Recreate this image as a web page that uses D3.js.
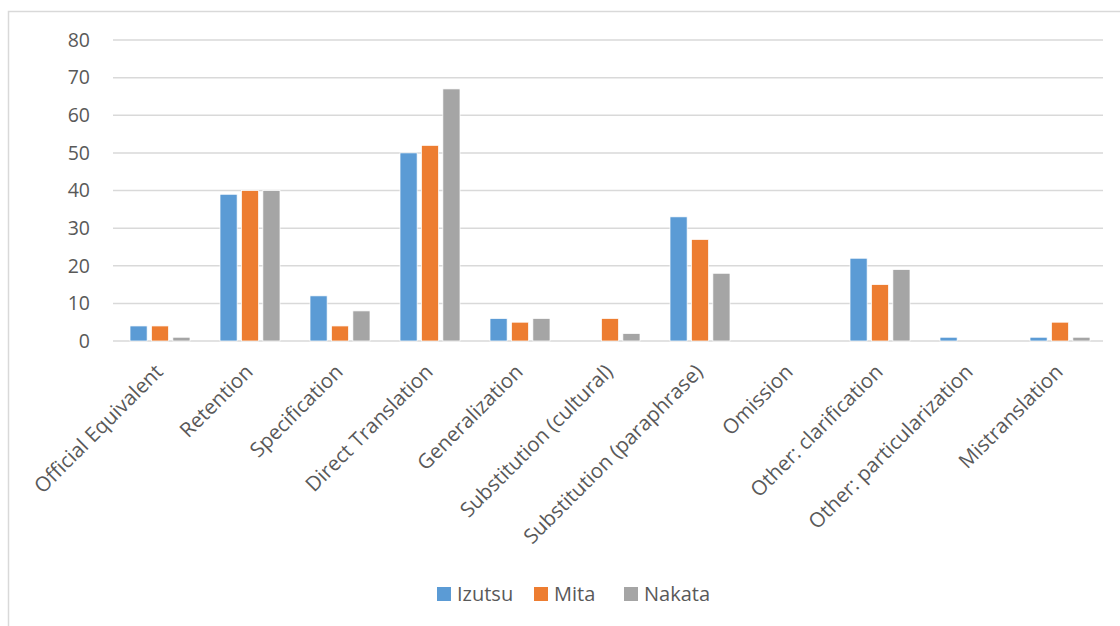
<!DOCTYPE html>
<html>
<head>
<meta charset="utf-8">
<script src="https://cdn.jsdelivr.net/npm/d3@7"></script>
<style>
  html, body { margin: 0; padding: 0; background: #fff; }
  svg { display: block; font-family: "Open Sans", Lato, sans-serif; }
</style>
</head>
<body>
<div id="chart"></div>
<script>
// ---------- Data ----------
const categories = [
  'Official Equivalent', 'Retention', 'Specification', 'Direct Translation',
  'Generalization', 'Substitution (cultural)', 'Substitution (paraphrase)',
  'Omission', 'Other: clarification', 'Other: particularization', 'Mistranslation'
];
const seriesNames = ['Izutsu', 'Mita', 'Nakata'];
const izutsu = [4, 39, 12, 50, 6, 0, 33, 0, 22, 1, 1];
const mita   = [4, 40, 4, 52, 5, 6, 27, 0, 15, 0, 5];
const nakata = [1, 40, 8, 67, 6, 2, 18, 0, 19, 0, 1];
const yTicks = [0, 10, 20, 30, 40, 50, 60, 70, 80];
const colors = ['#5b9bd5', '#ed7d31', '#a5a5a5'];

const values = [izutsu, mita, nakata];
const W = 1120, H = 626;
const m = { t: 40, r: 17, b: 285, l: 113 };
const txt = '#595959';

const svg = d3.select('#chart').append('svg').attr('width', W).attr('height', H);

// chart area border (left + top visible)
svg.append('path')
  .attr('d', `M8.5,${H} L8.5,11.5 L${W},11.5`)
  .attr('fill', 'none').attr('stroke', '#d9d9d9').attr('stroke-width', 1.5);

const x0 = d3.scaleBand().domain(categories).range([m.l, W - m.r]);
const x1 = d3.scaleBand().domain(seriesNames).range([0, 60]).paddingInner(0.2);
const y = d3.scaleLinear().domain([0, 80]).range([H - m.b, m.t]);

// gridlines
svg.append('g').selectAll('line').data(yTicks).join('line')
  .attr('x1', m.l).attr('x2', W - m.r)
  .attr('y1', d => y(d)).attr('y2', d => y(d))
  .attr('stroke', '#d9d9d9').attr('stroke-width', 1.5);

// y axis labels
const yAxis = svg.append('g').attr('transform', `translate(${m.l - 18},0)`)
  .call(d3.axisLeft(y).tickValues(yTicks).tickSize(0).tickPadding(5));
yAxis.select('.domain').remove();
yAxis.selectAll('text').attr('font-size', 19.5).attr('fill', txt).attr('font-family', '"Open Sans", sans-serif');

// bars
const groupOffset = (x0.bandwidth() - 60) / 2 + 2;
const g = svg.append('g');
categories.forEach((c, i) => {
  seriesNames.forEach((s, j) => {
    const v = values[j][i];
    if (v <= 0) return;
    g.append('rect')
      .attr('x', x0(c) + groupOffset + x1(s))
      .attr('y', y(v))
      .attr('width', x1.bandwidth())
      .attr('height', y(0) - y(v))
      .attr('fill', colors[j])
      .attr('stroke', '#fff').attr('stroke-width', 0.75);
  });
});

// x axis (rotated labels)
const xAxis = svg.append('g').attr('transform', `translate(0,${y(0)})`)
  .call(d3.axisBottom(x0).tickSize(0).tickPadding(0));
xAxis.select('.domain').remove();
xAxis.selectAll('text')
  .attr('font-size', 20.5).attr('fill', txt).attr('font-family', '"Open Sans", sans-serif')
  .attr('text-anchor', 'end')
  .attr('dy', '0.35em')
  .attr('transform', 'translate(1,27) rotate(-45)');

// legend
const legendX = [437, 534, 624];
const legend = svg.append('g').attr('transform', 'translate(0,587)');
seriesNames.forEach((s, j) => {
  legend.append('rect').attr('x', legendX[j]).attr('y', 0).attr('width', 14).attr('height', 14).attr('fill', colors[j]);
  legend.append('text').attr('x', legendX[j] + 20).attr('y', 7).attr('dy', '0.35em')
    .attr('font-size', 20).attr('fill', txt).text(s);
});
</script>
</body>
</html>
